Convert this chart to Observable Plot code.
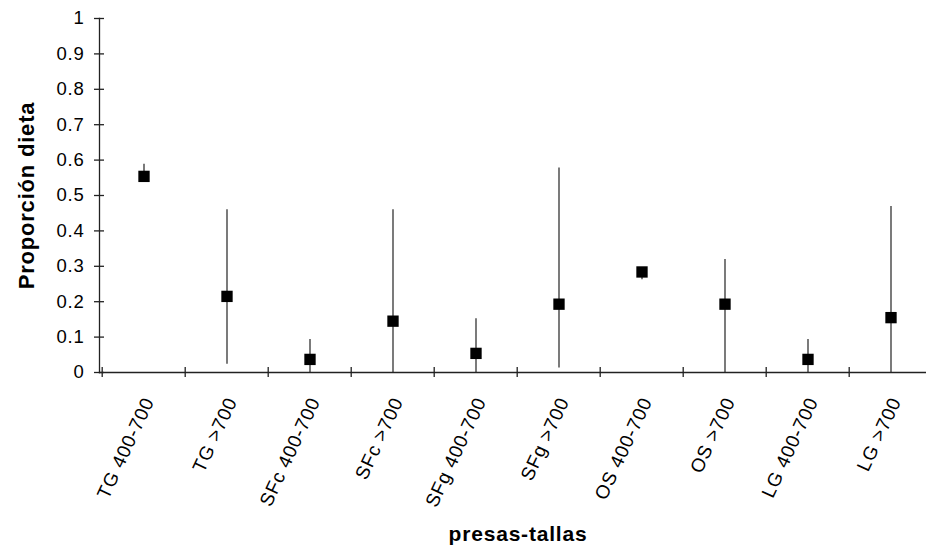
<!DOCTYPE html>
<html><head><meta charset="utf-8">
<script src="https://cdn.jsdelivr.net/npm/d3@7"></script>
<script src="https://cdn.jsdelivr.net/npm/@observablehq/plot@0.6"></script>
<style>
body{margin:0;background:#fff}
#chart svg{font-family:"Liberation Sans",Arial,sans-serif;background:#fff;overflow:hidden}
#chart svg text{letter-spacing:0.8px}
#chart g[aria-label="titles"] text{letter-spacing:1.9px}
</style>
</head><body><div id="chart"></div>
<script>
const categories = ["TG 400-700","TG >700","SFc 400-700","SFc >700","SFg 400-700","SFg >700","OS 400-700","OS >700","LG 400-700","LG >700"];
const values = [0.554, 0.215, 0.037, 0.145, 0.054, 0.193, 0.284, 0.193, 0.037, 0.155];
const lows   = [0.545, 0.023, 0.0,   0.0,   0.0,   0.013, 0.262, 0.0,   0.0,   0.0];
const highs  = [0.588, 0.46,  0.093, 0.46,  0.152, 0.578, 0.29,  0.319, 0.093, 0.469];
const yTicks = [0,0.1,0.2,0.3,0.4,0.5,0.6,0.7,0.8,0.9,1];
const yTickLabels = ["0","0.1","0.2","0.3","0.4","0.5","0.6","0.7","0.8","0.9","1"];
const xTitle = "presas-tallas";
const yTitle = "Proporción dieta";

const data = categories.map((c,i)=>({cat:c, value:values[i], low:lows[i], high:highs[i]}));

const chart = Plot.plot({
  width: 926, height: 546,
  marginLeft: 99, marginRight: 0, marginTop: 18, marginBottom: 174,
  style: {fontSize: "18.5px", color: "#000"},
  x: {type: "band", domain: categories, range: [99, 935], padding: 0, axis: null},
  y: {domain: [0,1], axis: null},
  marks: [
    Plot.ruleX(data, {x:"cat", y1:"low", y2:"high", stroke:"#222", strokeWidth:1.2}),
    Plot.dot(data, {x:"cat", y:"value", symbol:"square", r:6.4, fill:"#000", stroke:"none"}),
    Plot.frame({anchor:"left", stroke:"#222", strokeWidth:1.3}),
    Plot.frame({anchor:"bottom", stroke:"#222", strokeWidth:1.3}),
    Plot.tickX(categories, {x:d=>d, dx:-41.8, insetTop:349, insetBottom:-5, stroke:"#222", strokeWidth:1.3}),
    Plot.axisY({ticks: yTicks, tickFormat:(d,i)=>yTickLabels[i], tickSize:10, dx:5, tickPadding:10, stroke:"#222", strokeWidth:1.3, fontSize:18.5}),
    Plot.text(categories, {x:d=>d, text:d=>d, frameAnchor:"bottom", rotate:-65, textAnchor:"end", lineAnchor:"middle", dx:5, dy:26, fontSize:19, fill:"#000"}),
    Plot.text([xTitle], {frameAnchor:"bottom", text:d=>d, textAnchor:"middle", lineAnchor:"bottom", dx:5, dy:168, fontSize:21, fontWeight:"bold", fill:"#000", ariaLabel:"titles"}),
    Plot.text([yTitle], {frameAnchor:"left", text:d=>d, rotate:-90, textAnchor:"middle", lineAnchor:"bottom", dx:-66, dy:0, fontSize:22, fontWeight:"bold", fill:"#000", ariaLabel:"titles"})
  ]
});
document.getElementById("chart").appendChild(chart);
</script>
</body></html>
